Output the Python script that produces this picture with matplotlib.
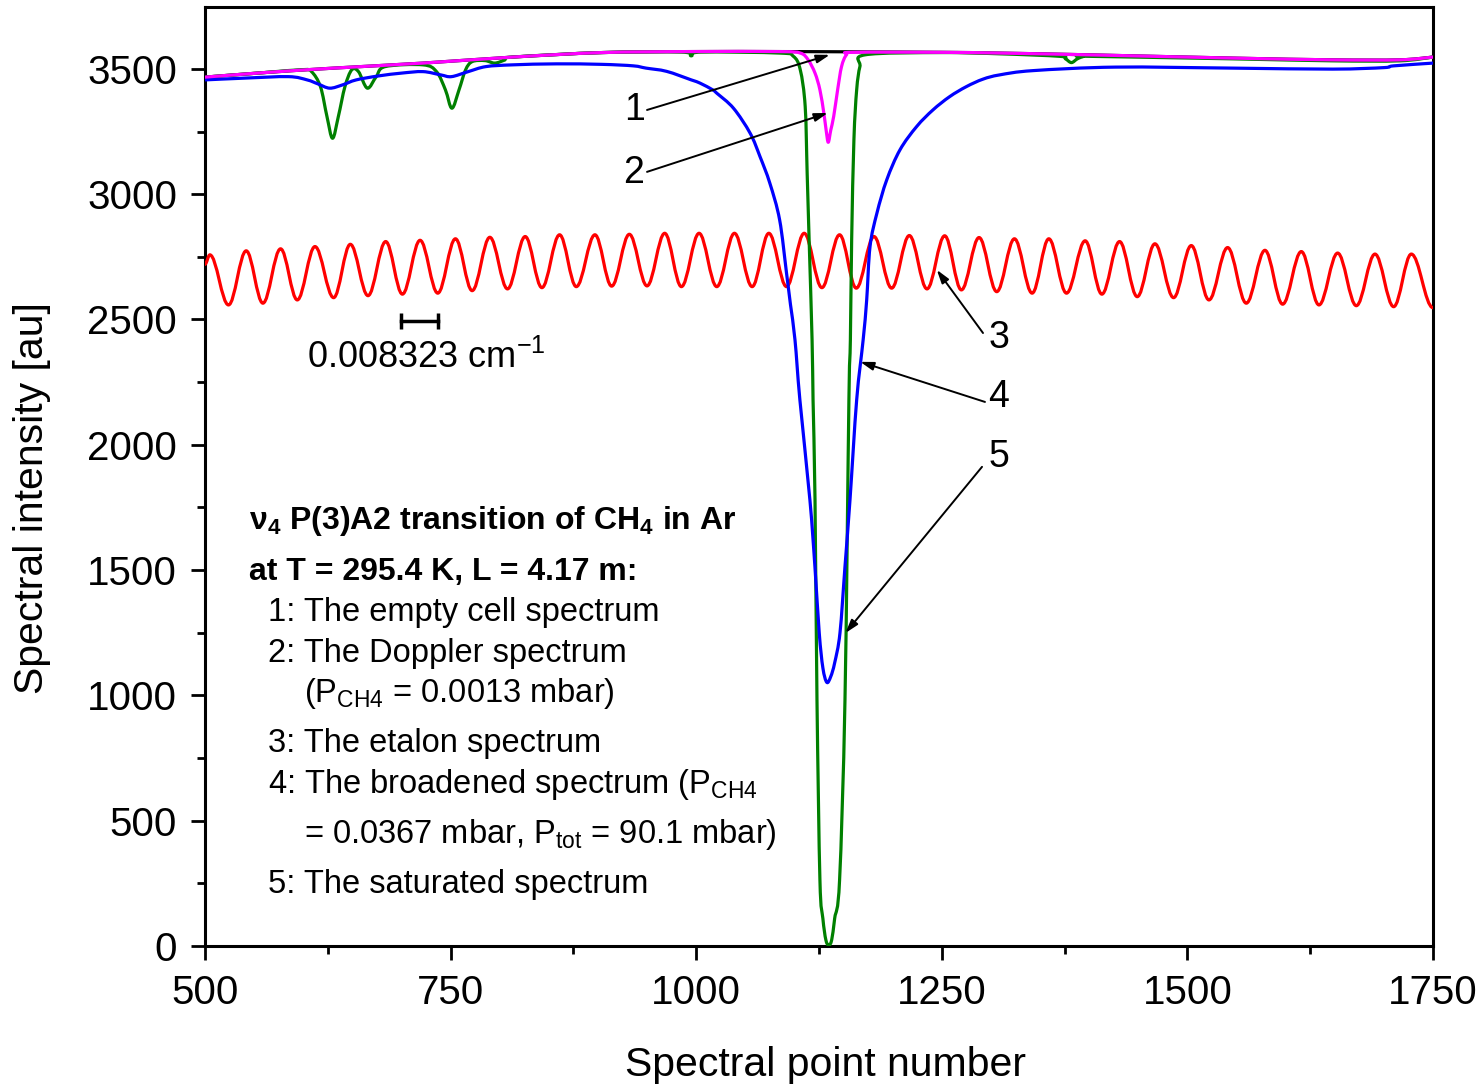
import numpy as np
import matplotlib
matplotlib.use('Agg')
import matplotlib.pyplot as plt
from matplotlib.path import Path
from matplotlib.patches import PathPatch

plt.rcParams['font.family'] = ['Liberation Sans', 'DejaVu Sans']
plt.rcParams['mathtext.fontset'] = 'custom'
plt.rcParams['mathtext.rm'] = 'Liberation Sans'
plt.rcParams['mathtext.it'] = 'Liberation Sans:italic'
plt.rcParams['mathtext.bf'] = 'Liberation Sans:bold'
plt.rcParams['mathtext.default'] = 'regular'

# 1: empty cell spectrum (baseline)
empty_x = [500, 560, 631, 722, 813, 904, 995, 1085, 1160, 1250, 1309, 1400, 1546, 1648, 1716, 1750]
empty_y = [3467, 3485, 3503, 3523, 3547, 3565, 3569, 3569, 3568, 3566, 3563, 3556, 3543, 3536, 3536, 3547]

# 2: Doppler spectrum
doppler_x = [500, 560, 631, 722, 813, 904, 995, 1085, 1106, 1114, 1121, 1126, 1130, 1132.5, 1134.5,
             1137, 1140, 1144, 1148, 1153, 1160, 1250, 1309, 1400, 1546, 1648, 1716, 1750]
doppler_y = [3467, 3485, 3503, 3523, 3547, 3565, 3569, 3569, 3563, 3536, 3483, 3416, 3323, 3250, 3207,
             3255, 3310, 3416, 3509, 3556, 3566, 3566, 3563, 3556, 3543, 3536, 3536, 3547]

# 3: etalon spectrum (extrema)
etalon_x = [500, 505, 524, 542, 559, 577, 594, 612, 631, 648, 666, 684, 701, 719, 737, 755, 772, 790, 808,
            826, 843, 861, 878, 897, 914, 932, 950, 968, 985, 1003, 1021, 1039, 1057, 1074, 1092, 1110,
            1128, 1146, 1163, 1181, 1199, 1217, 1235, 1253, 1270, 1288, 1306, 1324, 1342, 1359, 1377,
            1396, 1413, 1431, 1449, 1467, 1486, 1504, 1522, 1541, 1560, 1579, 1597, 1616, 1634, 1653,
            1672, 1691, 1710, 1728, 1750]
etalon_y = [2720, 2758, 2558, 2774, 2565, 2782, 2578, 2791, 2587, 2800, 2595, 2811, 2601, 2816, 2605, 2822,
            2615, 2828, 2622, 2831, 2627, 2838, 2631, 2838, 2633, 2840, 2634, 2844, 2631, 2844, 2631, 2844,
            2631, 2844, 2631, 2844, 2627, 2838, 2625, 2831, 2625, 2835, 2622, 2834, 2618, 2827, 2611, 2822,
            2605, 2822, 2605, 2814, 2601, 2811, 2591, 2802, 2587, 2795, 2578, 2787, 2565, 2776, 2561, 2771,
            2558, 2765, 2555, 2761, 2551, 2761, 2547]

# 4: broadened spectrum
broad_x = [500, 540, 585, 604, 615, 627, 640, 654, 677, 700, 722, 740, 751, 768, 786, 813, 858, 904, 936,
           949, 970, 995, 1004, 1017, 1021, 1038, 1055, 1065, 1075, 1085, 1092, 1096, 1100.6, 1105.6,
           1115.8, 1120.9, 1125.3, 1129, 1133, 1137, 1141, 1146.4, 1151.5, 1156.6, 1163.4, 1170,
           1173.6, 1177, 1184, 1194, 1207.5, 1224.5, 1241, 1258, 1275, 1292, 1309, 1343, 1427, 1546,
           1648, 1700, 1710, 1750]
broad_y = [3456, 3463, 3469, 3456, 3440, 3423, 3436, 3456, 3472, 3483, 3489, 3476, 3469, 3489, 3509, 3516,
           3520, 3518, 3512, 3503, 3490, 3456, 3443, 3416, 3403, 3343, 3243, 3150, 3044, 2897, 2685, 2560,
           2419, 2179, 1780, 1514, 1249, 1110, 1052, 1075, 1130, 1249, 1514, 1780, 2179, 2419, 2578, 2791,
           2924, 3057, 3177, 3270, 3336, 3389, 3429, 3459, 3476, 3493, 3507, 3503, 3499, 3505, 3512, 3523]

# 5: saturated spectrum
sat_x = [500, 560, 600, 608.5, 617.6, 624.2, 629.9, 635.8, 642.5, 649.4, 656.3, 665.3, 674.4, 683.5, 722,
         735.7, 744.8, 751.4, 758.6, 765.3, 772.1, 785, 795, 805, 813, 904, 985, 995, 1005, 1085, 1099,
         1106, 1111, 1113, 1115, 1118, 1119, 1121, 1123, 1126, 1129, 1132, 1135, 1138, 1141, 1146, 1151.5,
         1155.5, 1157, 1158.3, 1160.6, 1163.4, 1166.7, 1172, 1250, 1309, 1370, 1376, 1382, 1388, 1394,
         1400, 1546, 1648, 1716, 1750]
sat_y = [3467, 3485, 3497, 3489, 3429, 3310, 3223, 3310, 3429, 3496, 3489, 3423, 3469, 3509, 3516,
         3489, 3416, 3343, 3416, 3496, 3529, 3533, 3523, 3535, 3547, 3565, 3567, 3552, 3567, 3563, 3550,
         3496, 3350, 3084, 2818, 2419, 2179, 1780, 982, 263, 110, 25, 3, 25, 110, 263, 982,
         2179, 2419, 2818, 3217, 3416, 3509, 3556, 3565, 3560, 3550, 3540, 3525, 3540, 3549,
         3550, 3540, 3532, 3532, 3547]

# scale bar (one etalon period) and annotation labels
bar_x = [700, 737]
bar_y = 2494
labels = ['1', '2', '3', '4', '5']
label_xy = [(937, 3336), (936, 3084), (1308, 2427), (1308, 2191), (1308, 1952)]
tail_xy = [(950, 3336), (950, 3089), (1292, 2446), (1294, 2171), (1291, 1912)]
tip_xy = [(1136, 3556), (1134, 3324), (1245, 2698), (1167, 2331), (1152, 1249)]


def wave_path(xs, ys, k=0.3642):
    # bezier segments with flat tangents at the extrema
    verts = [(xs[0], ys[0])]
    codes = [Path.MOVETO]
    for i in range(1, len(xs)):
        dx = xs[i] - xs[i - 1]
        verts += [(xs[i - 1] + k * dx, ys[i - 1]), (xs[i] - k * dx, ys[i]), (xs[i], ys[i])]
        codes += [Path.CURVE4] * 3
    return Path(verts, codes)


def spline_path(xs, ys):
    # catmull-rom style bezier through the read points (scaled to pixel aspect)
    p = np.column_stack([xs, np.asarray(ys) / 4.06])
    n = len(p)
    verts = [tuple(p[0])]
    codes = [Path.MOVETO]
    for i in range(n - 1):
        a = p[max(i - 1, 0)]
        b = p[i]
        c = p[i + 1]
        d = p[min(i + 2, n - 1)]
        c1 = b + (c - a) / 6.0
        c2 = c - (d - b) / 6.0
        verts += [tuple(c1), tuple(c2), tuple(c)]
        codes += [Path.CURVE4] * 3
    v = np.array(verts)
    v[:, 1] *= 4.06
    return Path(v, codes)


fig = plt.figure(figsize=(14.84, 10.88), dpi=100)
ax = fig.add_axes([0.1381, 0.1305, 0.8275, 0.8631])

lw = 2.3


def draw(path, color, z):
    ax.add_patch(PathPatch(path, facecolor='none', edgecolor=color, lw=lw, zorder=z, capstyle='round', joinstyle='round'))


draw(spline_path(empty_x, empty_y), 'black', 2)
draw(wave_path(etalon_x, etalon_y), '#ff0000', 3)
draw(spline_path(sat_x, sat_y), '#008000', 4)
draw(spline_path(broad_x, broad_y), '#0000ff', 5)
draw(spline_path(doppler_x, doppler_y), '#ff00ff', 6)

ax.set_xlim(500, 1750)
ax.set_ylim(0, 3747)
ax.set_xticks(np.arange(500, 1751, 250))
ax.set_xticks(np.arange(625, 1750, 250), minor=True)
ax.set_yticks(np.arange(0, 3501, 500))
ax.set_yticks(np.arange(250, 3750, 500), minor=True)
ax.tick_params(which='major', direction='out', length=10, width=2, labelsize=29, pad=10)
ax.tick_params(which='minor', direction='out', length=6, width=2)
for s in ax.spines.values():
    s.set_linewidth(2.2)

ax.set_xlabel('Spectral point number', fontsize=29.5)
ax.set_ylabel('Spectral intensity [au]', fontsize=29.5)
ax.xaxis.set_label_coords(0.505, -0.106)
ax.yaxis.set_label_coords(-0.125, 0.477)

# scale bar
ax.plot(bar_x, [bar_y, bar_y], color='black', lw=2.5, zorder=7)
ax.plot(bar_x, [bar_y, bar_y], ls='none', marker='|', ms=12, mew=2.5, color='black', zorder=7)
ax.text(604, 2347, '0.008323 cm$^{-1}$', fontsize=26, va='center', ha='left')

# arrows
for lab, (lx, ly), (tx, ty), (hx, hy) in zip(labels, label_xy, tail_xy, tip_xy):
    ax.text(lx, ly, lab, fontsize=27, ha='center', va='center')
    ax.annotate('', xy=(hx, hy), xytext=(tx, ty),
                arrowprops=dict(arrowstyle='-|>,head_length=0.8,head_width=0.25', color='black',
                                lw=1.4, shrinkA=0, shrinkB=0), zorder=8)

# description text
ax.text(545, 1663, r'$\nu_4$ P(3)A2 transition of CH$_\mathbf{4}$ in Ar', fontsize=23, fontweight='bold', va='baseline')
ax.text(545, 1461, 'at T = 295.4 K, L = 4.17 m:', fontsize=23, fontweight='bold', va='baseline')
ax.text(564, 1298, '1: The empty cell spectrum', fontsize=23.5, va='baseline')
ax.text(564, 1135, '2: The Doppler spectrum', fontsize=23.5, va='baseline')
ax.text(601, 972, '(P$_{CH4}$ = 0.0013 mbar)', fontsize=23.5, va='baseline')
ax.text(564, 775, '3: The etalon spectrum', fontsize=23.5, va='baseline')
ax.text(564, 609, '4: The broadened spectrum (P$_{CH4}$', fontsize=23.5, va='baseline')
ax.text(601, 412, '= 0.0367 mbar, P$_{tot}$ = 90.1 mbar)', fontsize=23.5, va='baseline')
ax.text(564, 212, '5: The saturated spectrum', fontsize=23.5, va='baseline')

fig.savefig('out.png', dpi=100)
